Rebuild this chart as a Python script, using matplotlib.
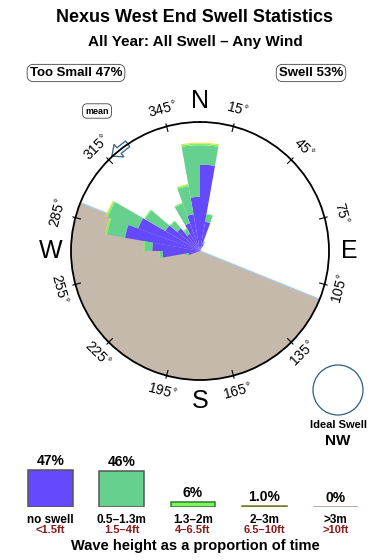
import numpy as np
import matplotlib
matplotlib.use("Agg")
import matplotlib.pyplot as plt
from matplotlib.patches import Circle, Polygon

plt.rcParams['font.family'] = ['Liberation Sans', 'DejaVu Sans']

# rose data: bin centres (deg) and radial length of each band (% of outer ring)
bins = [5, 15, 25, 255, 265, 275, 285, 295, 305, 315, 325, 335, 345, 355]
no_swell = [67, 23, 6, 9, 29, 37, 59, 51, 31, 23, 15.5, 23, 29, 42]
small = [15, 6, 2, 2, 2, 6, 14, 25, 18, 7, 4, 16, 22, 40]
medium = [1.2, 0.5, 0, 0, 0.8, 1.2, 1.2, 1.2, 1.0, 0.8, 1.0, 0.8, 1.2, 1.2]
large = [0.8, 0, 0, 0, 0, 0, 0.5, 0.8, 0, 0, 0, 0, 0.5, 0.8]

land_from, land_to = 112, 292
mean_dir = 322

# legend data
cats = ['no swell', '0.5\u20131.3m', '1.3\u20132m', '2\u20133m', '>3m']
feet = ['<1.5ft', '1.5\u20134ft', '4\u20136.5ft', '6.5\u201310ft', '>10ft']
pct = [47, 46, 6, 1.0, 0]
pct_lbl = ['47%', '46%', '6%', '1.0%', '0%']
too_small, swell = 47, 53

colors = ['#6549FF', '#66D08E', '#7CF560', '#E2E24A', '#E6C2B8']
edges = ['#555555', '#555555', '#2E7D2E', '#7A7A22', '#B09088']

W, H = 390, 560
fig = plt.figure(figsize=(W / 100, H / 100), dpi=100)

# overlay in pixel coords for text and decorations
deco = fig.add_axes([0, 0, 1, 1])
deco.set_xlim(0, W)
deco.set_ylim(H, 0)
deco.axis('off')

cx, cy, R = 200, 251, 129
ax = fig.add_axes([(cx - R) / W, (H - cy - R) / H, 2 * R / W, 2 * R / H], projection='polar')
ax.set_theta_zero_location('N')
ax.set_theta_direction(-1)
ax.set_ylim(0, 100)
ax.grid(False)
ax.set_xticks([])
ax.set_yticks([])
ax.spines['polar'].set_linewidth(1.3)
ax.patch.set_alpha(0)

# land sector
mid = (land_from + land_to) / 2
ax.bar(np.deg2rad(mid), 100, width=np.deg2rad(land_to - land_from), color='#C5B9AB', zorder=1)
for a in (land_from, land_to):
    ax.plot([np.deg2rad(a)] * 2, [0, 100], color='#A9C9E6', lw=1, zorder=1.5)

th = np.deg2rad(bins)
wd = np.deg2rad(10)
bottom = np.zeros(len(bins))
for vals, c in zip([no_swell, small, medium, large], colors):
    ax.bar(th, vals, width=wd, bottom=bottom, color=c, edgecolor='none', zorder=2)
    bottom = bottom + np.array(vals)

# degree ticks and labels
for b in range(15, 360, 30):
    t = np.deg2rad(b)
    ax.plot([t, t], [96, 102], color='black', lw=0.8, zorder=3, clip_on=False)
    rot = -b
    while rot <= -90:
        rot += 180
    ax.text(t, 113, f'{b}' + r'$^{\circ}$', rotation=rot, rotation_mode='anchor',
            ha='center', va='center', fontsize=10, clip_on=False)
for b, s in zip([0, 90, 180, 270], 'NESW'):
    ax.text(np.deg2rad(b), 116, s, ha='center', va='center', fontsize=18, clip_on=False)

# mean direction arrow
a = np.deg2rad(mean_dir)
px, py = cx + R * np.sin(a), cy - R * np.cos(a)
tx, ty = -np.cos(a), -np.sin(a)   # tangent (counter-clockwise), screen coords y down
nx, ny = np.sin(a), -np.cos(a)    # outward normal
shape = [(-9, -3.5), (2, -3.5), (2, -8), (11, 0), (2, 8), (2, 3.5), (-9, 3.5)]
pts = [(px + u * tx + v * nx, py + u * ty + v * ny) for u, v in shape]
deco.add_patch(Polygon(pts, closed=True, fc='white', ec='#3F6C8E', lw=1, zorder=5))
deco.text(97, 111, 'mean', ha='center', va='center', fontsize=6.5, fontweight='bold',
          bbox=dict(boxstyle='round,pad=0.3,rounding_size=0.5', fc='white', ec='#444444', lw=0.6))

# titles
deco.text(W / 2, 18, 'Nexus West End Swell Statistics', ha='center', va='center',
          fontsize=13, fontweight='bold')
deco.text(W / 2, 42, 'All Year: All Swell \u2013 Any Wind', ha='center', va='center',
          fontsize=11, fontweight='bold')
deco.text(76, 73, f'Too Small {too_small}%', ha='center', va='center', fontsize=9.5, fontweight='bold',
          bbox=dict(boxstyle='round,pad=0.2,rounding_size=0.5', fc='white', ec='#444444', lw=0.6))
deco.text(311, 73, f'Swell {swell}%', ha='center', va='center', fontsize=9.5, fontweight='bold',
          bbox=dict(boxstyle='round,pad=0.2,rounding_size=0.5', fc='white', ec='#444444', lw=0.6))

# ideal swell
deco.add_patch(Circle((338, 390), 25, fc='white', ec='#2E5C80', lw=0.9))
deco.text(338, 425, 'Ideal Swell', ha='center', va='center', fontsize=8, fontweight='bold')
deco.text(338, 441, 'NW', ha='center', va='center', fontsize=11, fontweight='bold')

# legend bars
lx0, lx1, lbase, ltop = 15, 371, 507, 460
lg = fig.add_axes([lx0 / W, (H - lbase) / H, (lx1 - lx0) / W, (lbase - ltop) / H])
lg.set_xlim(-0.5, 4.5)
lg.set_ylim(0, 47 * (lbase - ltop) / 37)
lg.axis('off')
x = np.arange(len(cats))
lg.bar(x, pct, width=0.63, color=colors, edgecolor=edges, linewidth=1.1)
for i in x:
    lg.annotate(pct_lbl[i], (i, pct[i]), xytext=(0, 1.5), textcoords='offset points',
                ha='center', va='bottom', fontsize=10, fontweight='bold', annotation_clip=False)
    lg.annotate(cats[i], (i, 0), xytext=(0, -5), textcoords='offset points',
                ha='center', va='top', fontsize=8.5, fontweight='bold', annotation_clip=False)
    lg.annotate(feet[i], (i, 0), xytext=(0, -13), textcoords='offset points',
                ha='center', va='top', fontsize=8, fontweight='bold', color='#8B1A1A',
                annotation_clip=False)
deco.text(W / 2, 546, 'Wave height as a proportion of time', ha='center', va='center',
          fontsize=10.5, fontweight='bold')

fig.savefig('out.png', dpi=100)
